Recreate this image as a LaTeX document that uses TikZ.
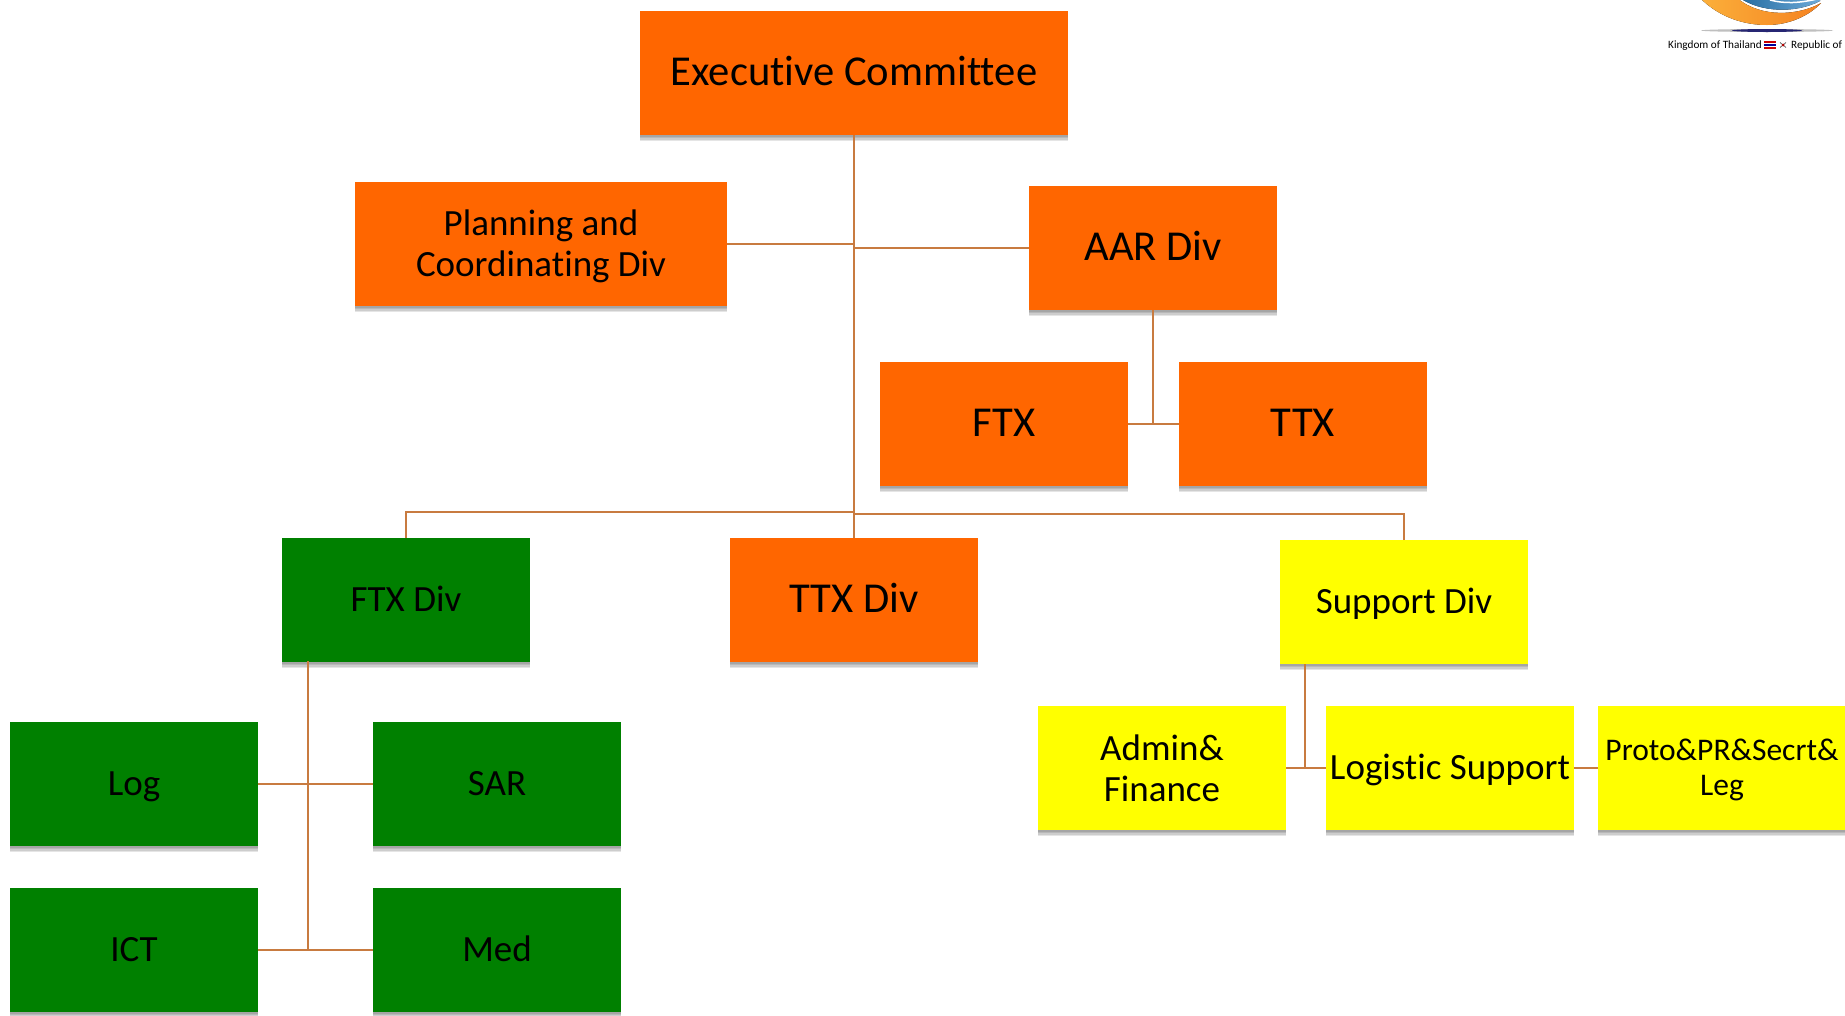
\documentclass[tikz,border=0pt]{standalone}
\usepackage{fontspec}
\setmainfont[Ligatures=NoCommon]{Carlito}
\usetikzlibrary{shadows}
\definecolor{boxorange}{HTML}{FF6600}
\definecolor{boxgreen}{HTML}{008000}
\definecolor{boxyellow}{HTML}{FFFF00}
\definecolor{linkcol}{HTML}{C87B40}
\definecolor{logoamber}{HTML}{FBB03B}
\definecolor{logoorange}{HTML}{F58220}
\definecolor{logoblue}{HTML}{2E86C8}
\newcommand{\sunk}[1]{\raisebox{-2pt}[\height][\depth]{#1}}
\tikzset{
  softshadow/.style={drop shadow={shadow xshift=0pt, shadow yshift=-#1pt, opacity=.1, fill=black}},
  orgbox/.style={rectangle, inner sep=0pt, outer sep=0pt, text=black, align=center, minimum height=124pt, minimum width=248pt,
    softshadow=1.5, softshadow=3, softshadow=4.5, softshadow=6},
  orangebox/.style={orgbox, fill=boxorange},
  greenbox/.style={orgbox, fill=boxgreen},
  yellowbox/.style={orgbox, fill=boxyellow},
  link/.style={draw=linkcol, line width=2.4pt},
  big/.style={font=\fontsize{42.6}{46}\selectfont, text height=34pt, text depth=9pt},
  mid/.style={font=\fontsize{37}{41}\selectfont, text height=30pt, text depth=8pt},
  twoline/.style={font=\fontsize{37}{41}\selectfont},
  logotext/.style={anchor=base west, inner sep=0pt, font=\fontsize{11.2}{13}\selectfont},
}
\begin{document}
\begin{tikzpicture}[x=1pt,y=-1pt]
  \clip (0,0) rectangle (1845,1015);
  \fill[white] (0,0) rectangle (1845,1015);

  % connectors
  \coordinate (busl) at (854,512);
  \coordinate (busr) at (854,514);
  \coordinate (ftxdrop) at (308,661);
  \coordinate (supdrop) at (1305,664);

  % boxes
  \node[orangebox, big, minimum width=428pt] (exec) at (854,73) {Executive Committee};
  \node[orangebox, twoline, minimum width=372pt] (plan) at (541,244) {\sunk{Planning and}\\\sunk{Coordinating Div}};
  \node[orangebox, big] (aar) at (1153,248) {AAR Div};
  \node[orangebox, big] (ftx) at (1004,424) {FTX};
  \node[orangebox, big] (ttx) at (1303,424) {TTX};
  \node[greenbox, mid] (ftxdiv) at (406,600) {FTX Div};
  \node[orangebox, big] (ttxdiv) at (854,600) {TTX Div};
  \node[yellowbox, mid] (supdiv) at (1404,602) {Support Div};
  \node[greenbox, mid] (log) at (134,784) {Log};
  \node[greenbox, mid] (sar) at (497,784) {SAR};
  \node[greenbox, mid] (ict) at (134,950) {ICT};
  \node[greenbox, mid] (med) at (497,950) {Med};
  \node[yellowbox, twoline] (adm) at (1162,768) {Admin\&\\Finance};
  \node[yellowbox, mid] (logi) at (1450,768) {Logistic Support};
  \node[yellowbox, font=\fontsize{31.5}{35}\selectfont] (proto) at (1722,768) {\sunk{Proto\&PR\&Secrt\&}\\\sunk{Leg}};

  \draw[link] (exec.south) -- (ttxdiv.north);
  \draw[link] (plan.east) -- (plan.east -| exec.south);
  \draw[link] (aar.west) -- (aar.west -| exec.south);
  \draw[link] (aar.south) -- (aar.south |- ftx.east);
  \draw[link] (ftx.east) -- (ttx.west);
  \draw[link] (ftxdiv.north) |- (busl);
  \draw[link] (supdiv.north) |- (busr);
  \draw[link] (ftxdrop) -- (ftxdrop |- ict.east);
  \draw[link] (log.east) -- (sar.west);
  \draw[link] (ict.east) -- (med.west);
  \draw[link] (supdrop) -- (supdrop |- adm.east);
  \draw[link] (adm.east) -- (logi.west);
  \draw[link] (logi.east) -- (proto.west);

  % logo, cut off by the page
  \fill[left color=logoamber, right color=logoorange] (1700,-2) .. controls (1720,18) and (1745,25) .. (1767,25) .. controls (1790,25) and (1810,15) .. (1821,3) .. controls (1800,15) and (1762,19) .. (1737,-2) -- cycle;
  \fill[left color=logoblue!80!black, right color=logoblue!70!white] (1740,-2) .. controls (1760,12) and (1795,14) .. (1820,1) -- (1820,-2) -- cycle;
  \draw[white, line width=1.5pt] (1770,0) .. controls (1785,4) and (1800,3) .. (1817,-1);
  \fill[gray!50] (1767,30.5) ellipse [x radius=66pt, y radius=1.5pt];
  \fill[gray!50!blue!60!black] (1767,30.5) ellipse [x radius=35pt, y radius=1.5pt];
  \node[logotext] (thai) at (1668,48) {Kingdom of Thailand};
  \fill[red!80!black] (1764,40.5) rectangle (1776,49);
  \fill[white] (1764,42.5) rectangle (1776,47);
  \fill[blue!60!black] (1764,43.7) rectangle (1776,45.8);
  \draw[gray!70!black, line width=.7pt] (1780,42.5) -- (1786,47.5) (1780,47.5) -- (1786,42.5);
  \fill[red!70!black] (1783,45) circle [radius=1.5pt];
  \node[logotext] (rep) at (1791,48) {Republic of};
\end{tikzpicture}
\end{document}
